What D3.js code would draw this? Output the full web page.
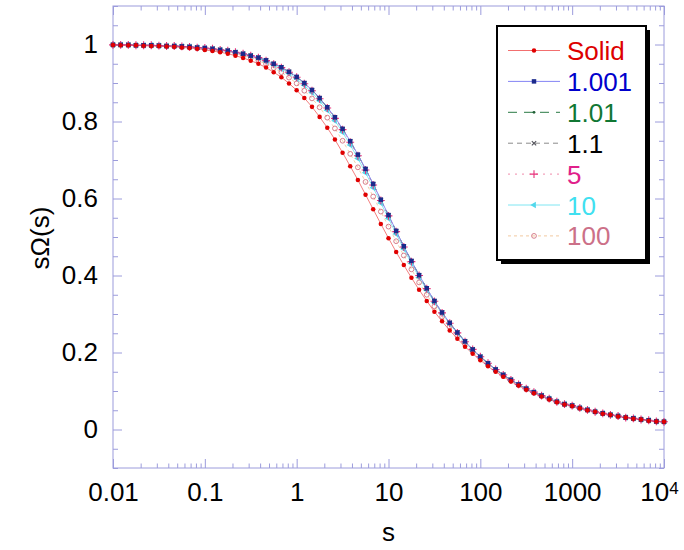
<!DOCTYPE html>
<html>
<head>
<meta charset="utf-8">
<script src="https://cdn.jsdelivr.net/npm/d3@7/dist/d3.min.js"></script>
<style>
  html, body { margin: 0; padding: 0; background: #ffffff; }
  svg { display: block; font-family: "Liberation Sans", Arial, Helvetica, sans-serif; }
</style>
</head>
<body>
<script>
// ---------------- DATA ----------------
const sValues = [0.01, 0.01212, 0.01468, 0.01778, 0.02154, 0.0261, 0.03162, 0.03831, 0.04642, 0.05623, 0.06813, 0.08254,
  0.1, 0.1212, 0.1468, 0.1778, 0.2154, 0.261, 0.3162, 0.3831, 0.4642, 0.5623, 0.6813, 0.8254,
  1, 1.212, 1.468, 1.778, 2.154, 2.61, 3.162, 3.831, 4.642, 5.623, 6.813, 8.254,
  10, 12.12, 14.68, 17.78, 21.54, 26.1, 31.62, 38.31, 46.42, 56.23, 68.13, 82.54,
  100, 121.2, 146.8, 177.8, 215.4, 261, 316.2, 383.1, 464.2, 562.3, 681.3, 825.4,
  1000, 1212, 1468, 1778, 2154, 2610, 3162, 3831, 4642, 5623, 6813, 8254, 10000];

const solidValues = [0.999, 0.998, 0.998, 0.998, 0.997, 0.996, 0.996, 0.995, 0.994, 0.992, 0.991, 0.989,
  0.986, 0.983, 0.980, 0.976, 0.971, 0.965, 0.958, 0.950, 0.940, 0.928, 0.915, 0.899,
  0.881, 0.861, 0.838, 0.812, 0.784, 0.753, 0.719, 0.684, 0.648, 0.610, 0.572, 0.534,
  0.497, 0.461, 0.427, 0.394, 0.363, 0.334, 0.306, 0.281, 0.257, 0.236, 0.215, 0.197,
  0.180, 0.164, 0.150, 0.137, 0.125, 0.114, 0.103, 0.094, 0.086, 0.078, 0.071, 0.065,
  0.061, 0.055, 0.050, 0.046, 0.041, 0.038, 0.034, 0.031, 0.028, 0.026, 0.023, 0.021, 0.020];

const r1001Values = [0.999, 0.999, 0.999, 0.998, 0.998, 0.998, 0.997, 0.996, 0.996, 0.995, 0.994, 0.992,
  0.991, 0.989, 0.986, 0.984, 0.980, 0.976, 0.971, 0.966, 0.959, 0.950, 0.941, 0.929,
  0.916, 0.900, 0.882, 0.861, 0.837, 0.811, 0.781, 0.749, 0.714, 0.677, 0.638, 0.597,
  0.557, 0.516, 0.476, 0.438, 0.401, 0.367, 0.334, 0.304, 0.277, 0.252, 0.229, 0.208,
  0.189, 0.172, 0.156, 0.142, 0.129, 0.117, 0.106, 0.097, 0.088, 0.080, 0.072, 0.066,
  0.062, 0.056, 0.051, 0.046, 0.042, 0.038, 0.035, 0.031, 0.029, 0.026, 0.024, 0.021, 0.020];

const r101Values = [0.999, 0.999, 0.999, 0.998, 0.998, 0.998, 0.997, 0.996, 0.996, 0.995, 0.994, 0.992,
  0.991, 0.989, 0.986, 0.984, 0.980, 0.976, 0.971, 0.966, 0.959, 0.950, 0.941, 0.929,
  0.916, 0.900, 0.882, 0.861, 0.837, 0.811, 0.781, 0.749, 0.714, 0.677, 0.638, 0.597,
  0.557, 0.516, 0.476, 0.438, 0.401, 0.367, 0.334, 0.304, 0.277, 0.252, 0.229, 0.208,
  0.189, 0.172, 0.156, 0.142, 0.129, 0.117, 0.106, 0.097, 0.088, 0.080, 0.072, 0.066,
  0.062, 0.056, 0.051, 0.046, 0.042, 0.038, 0.035, 0.031, 0.029, 0.026, 0.024, 0.021, 0.020];

const r11Values = [0.999, 0.999, 0.999, 0.998, 0.998, 0.998, 0.997, 0.996, 0.996, 0.995, 0.994, 0.992,
  0.991, 0.989, 0.986, 0.984, 0.980, 0.976, 0.971, 0.966, 0.959, 0.950, 0.941, 0.929,
  0.915, 0.899, 0.881, 0.860, 0.836, 0.810, 0.780, 0.748, 0.713, 0.676, 0.637, 0.596,
  0.556, 0.515, 0.475, 0.437, 0.400, 0.366, 0.333, 0.304, 0.277, 0.252, 0.229, 0.208,
  0.189, 0.172, 0.156, 0.142, 0.129, 0.117, 0.106, 0.097, 0.088, 0.080, 0.072, 0.066,
  0.062, 0.056, 0.051, 0.046, 0.042, 0.038, 0.035, 0.031, 0.029, 0.026, 0.024, 0.021, 0.020];

const r5Values = [0.999, 0.999, 0.999, 0.998, 0.998, 0.998, 0.997, 0.996, 0.996, 0.995, 0.994, 0.992,
  0.991, 0.989, 0.986, 0.984, 0.980, 0.976, 0.971, 0.966, 0.958, 0.949, 0.940, 0.928,
  0.915, 0.898, 0.880, 0.859, 0.835, 0.808, 0.779, 0.746, 0.711, 0.674, 0.635, 0.595,
  0.555, 0.514, 0.474, 0.436, 0.400, 0.366, 0.333, 0.303, 0.276, 0.251, 0.228, 0.208,
  0.189, 0.172, 0.156, 0.142, 0.129, 0.117, 0.106, 0.097, 0.088, 0.080, 0.072, 0.066,
  0.062, 0.056, 0.051, 0.046, 0.042, 0.038, 0.035, 0.031, 0.029, 0.026, 0.024, 0.021, 0.020];

const r10Values = [0.999, 0.999, 0.999, 0.998, 0.998, 0.998, 0.997, 0.996, 0.996, 0.995, 0.994, 0.992,
  0.990, 0.988, 0.986, 0.983, 0.979, 0.975, 0.970, 0.964, 0.956, 0.947, 0.937, 0.925,
  0.911, 0.894, 0.875, 0.854, 0.829, 0.802, 0.772, 0.739, 0.704, 0.667, 0.628, 0.588,
  0.548, 0.508, 0.469, 0.431, 0.395, 0.362, 0.330, 0.301, 0.274, 0.250, 0.227, 0.206,
  0.188, 0.171, 0.155, 0.141, 0.128, 0.117, 0.106, 0.096, 0.088, 0.080, 0.072, 0.066,
  0.062, 0.056, 0.051, 0.046, 0.042, 0.038, 0.035, 0.031, 0.029, 0.026, 0.024, 0.021, 0.020];

const r100Values = [0.999, 0.999, 0.998, 0.998, 0.997, 0.997, 0.996, 0.996, 0.995, 0.993, 0.992, 0.990,
  0.988, 0.986, 0.983, 0.980, 0.976, 0.971, 0.965, 0.958, 0.949, 0.939, 0.928, 0.914,
  0.899, 0.880, 0.860, 0.837, 0.810, 0.782, 0.750, 0.716, 0.681, 0.643, 0.605, 0.566,
  0.527, 0.489, 0.452, 0.416, 0.382, 0.350, 0.320, 0.293, 0.267, 0.244, 0.222, 0.202,
  0.184, 0.168, 0.153, 0.139, 0.127, 0.115, 0.105, 0.095, 0.087, 0.079, 0.072, 0.065,
  0.061, 0.055, 0.050, 0.046, 0.042, 0.038, 0.034, 0.031, 0.028, 0.026, 0.023, 0.021, 0.020];

const seriesNames = ["Solid", "1.001", "1.01", "1.1", "5", "10", "100"];
const seriesValues = [solidValues, r1001Values, r101Values, r11Values, r5Values, r10Values, r100Values];

const xTickValues = [0.01, 0.1, 1, 10, 100, 1000, 10000];
const xTickLabels = ["0.01", "0.1", "1", "10", "100", "1000", "10^4"];
const yTickValues = [0, 0.2, 0.4, 0.6, 0.8, 1];
const yTickLabels = ["0", "0.2", "0.4", "0.6", "0.8", "1"];
const xTitle = "s";
const yTitle = "sΩ(s)";

// ---------------- STYLES ----------------
const styles = {
  "Solid": { line: "#f26f6f", dash: null, mark: "#e00000", text: "#dd0000", shape: "circle", size: 16, fill: true },
  "1.001": { line: "#8484f4", dash: null, mark: "#1c2a8c", text: "#0000cc", shape: "square", size: 20, fill: true },
  "1.01":  { line: "#2a7a44", dash: "9,7", mark: "#1f5f35", text: "#117733", shape: "circle", size: 6, fill: true },
  "1.1":   { line: "#8a8a8a", dash: "5,4", mark: "#505058", text: "#000000", shape: "times", size: 14, fill: false },
  "5":     { line: "#f08aaa", dash: "2,5", mark: "#e8307a", text: "#e0208a", shape: "plus", size: 22, fill: false },
  "10":    { line: "#7fe6f2", dash: null, mark: "#52d8ec", text: "#40e0f0", shape: "triangle", size: 18, fill: true },
  "100":   { line: "#f2c9a0", dash: "3,3", mark: "#d07080", text: "#cc7088", shape: "circle", size: 18, fill: false }
};
const frameColor = "#9c9cdc";
const W = 684, H = 550;
const margin = { left: 113, right: 664, top: 6, bottom: 468 };

const svg = d3.select("body").append("svg").attr("width", W).attr("height", H);
svg.append("rect").attr("width", W).attr("height", H).attr("fill", "#ffffff");

const x = d3.scaleLog().domain([0.01, 10000]).range([margin.left, margin.right]);
const y = d3.scaleLinear().domain([-0.1, 1.1]).range([margin.bottom, margin.top]);

// minor tick positions
const xMinor = [];
for (let d = -2; d < 4; d++) for (let m = 2; m <= 9; m++) xMinor.push(m * Math.pow(10, d));
const yMinor = d3.range(-2, 23).map(i => +(i * 0.05).toFixed(2)).filter(v => !yTickValues.includes(v));

function styleAxis(g) {
  g.select(".domain").remove();
  g.selectAll("line").attr("stroke", frameColor).attr("stroke-width", 1);
}

const fontSize = 26;
// bottom axis
svg.append("g").attr("transform", `translate(0,${margin.bottom})`)
  .call(d3.axisBottom(x).tickValues(xMinor).tickSize(-4.5).tickFormat(""))
  .call(styleAxis);
const xAxisG = svg.append("g").attr("transform", `translate(0,${margin.bottom})`)
  .call(d3.axisBottom(x).tickValues(xTickValues).tickSize(-9).tickPadding(15)
    .tickFormat((d, i) => xTickLabels[i]))
  .call(styleAxis);
xAxisG.selectAll("text").attr("fill", "#000").style("font-size", fontSize + "px")
  .style("font-family", '"Liberation Sans", Arial, sans-serif');
xAxisG.selectAll("text").filter(d => d === 10000).each(function () {
  const t = d3.select(this);
  t.text(null).attr("x", -5);
  t.append("tspan").text("10");
  t.append("tspan").text("4").attr("dy", "-0.45em").style("font-size", "17px");
});

// top axis
svg.append("g").attr("transform", `translate(0,${margin.top})`)
  .call(d3.axisTop(x).tickValues(xMinor).tickSize(-4.5).tickFormat("")).call(styleAxis);
svg.append("g").attr("transform", `translate(0,${margin.top})`)
  .call(d3.axisTop(x).tickValues(xTickValues).tickSize(-9).tickFormat("")).call(styleAxis);

// left axis
svg.append("g").attr("transform", `translate(${margin.left},0)`)
  .call(d3.axisLeft(y).tickValues(yMinor).tickSize(-5).tickFormat("")).call(styleAxis);
const yAxisG = svg.append("g").attr("transform", `translate(${margin.left},0)`)
  .call(d3.axisLeft(y).tickValues(yTickValues).tickSize(-9).tickPadding(15)
    .tickFormat((d, i) => yTickLabels[i]))
  .call(styleAxis);
yAxisG.selectAll("text").attr("fill", "#000").style("font-size", fontSize + "px")
  .style("font-family", '"Liberation Sans", Arial, sans-serif');

// right axis
svg.append("g").attr("transform", `translate(${margin.right},0)`)
  .call(d3.axisRight(y).tickValues(yMinor).tickSize(-5).tickFormat("")).call(styleAxis);
svg.append("g").attr("transform", `translate(${margin.right},0)`)
  .call(d3.axisRight(y).tickValues(yTickValues).tickSize(-9).tickFormat("")).call(styleAxis);

// frame
svg.append("rect").attr("x", margin.left).attr("y", margin.top)
  .attr("width", margin.right - margin.left).attr("height", margin.bottom - margin.top)
  .attr("fill", "none").attr("stroke", frameColor).attr("stroke-width", 1);

// titles
svg.append("text").attr("x", (margin.left + margin.right) / 2).attr("y", 541)
  .attr("text-anchor", "middle").style("font-size", fontSize + "px").attr("fill", "#000").text(xTitle);
svg.append("text").attr("transform", "translate(49,238) rotate(-90)")
  .attr("text-anchor", "middle").style("font-size", fontSize + "px").attr("fill", "#000").text(yTitle);

// symbols
function symbolPath(shape, size) {
  const types = { circle: d3.symbolCircle, square: d3.symbolSquare, times: d3.symbolTimes,
    plus: d3.symbolPlus, triangle: d3.symbolTriangle };
  return d3.symbol().type(types[shape]).size(size)();
}
function drawMarker(g, st, px, py) {
  const p = g.append("path").attr("d", symbolPath(st.shape, st.size));
  let tr = `translate(${px},${py})`;
  if (st.shape === "triangle") tr += " rotate(-90)";
  p.attr("transform", tr);
  if (st.fill) p.attr("fill", st.mark).attr("stroke", "none");
  else p.attr("fill", "none").attr("stroke", st.mark).attr("stroke-width", st.shape === "circle" ? 0.9 : 1.1);
}

const plot = svg.append("g");
const line = d3.line().x(d => x(d.s)).y(d => y(d.v));
const drawOrder = ["100", "10", "5", "1.1", "1.01", "1.001", "Solid"];
drawOrder.forEach(name => {
  const i = seriesNames.indexOf(name);
  const st = styles[name];
  const pts = sValues.map((s, j) => ({ s: s, v: seriesValues[i][j] }));
  const p = plot.append("path").datum(pts).attr("d", line)
    .attr("fill", "none").attr("stroke", st.line).attr("stroke-width", 0.9);
  if (st.dash) p.attr("stroke-dasharray", st.dash);
});
drawOrder.forEach(name => {
  const i = seriesNames.indexOf(name);
  const st = styles[name];
  const g = plot.append("g");
  sValues.forEach((s, j) => drawMarker(g, st, x(s), y(seriesValues[i][j])));
});

// legend
const lg = svg.append("g");
const lx = 497, ly = 26, lw = 149, lh = 234;
lg.append("rect").attr("x", lx + 4).attr("y", ly + 4).attr("width", lw).attr("height", lh).attr("fill", "#000");
lg.append("rect").attr("x", lx).attr("y", ly).attr("width", lw).attr("height", lh)
  .attr("fill", "#fff").attr("stroke", "#000").attr("stroke-width", 2);
seriesNames.forEach((name, i) => {
  const st = styles[name];
  const cy = 50.5 + i * 30.9;
  const l = lg.append("line").attr("x1", 508).attr("x2", 560).attr("y1", cy).attr("y2", cy)
    .attr("stroke", st.line).attr("stroke-width", 1);
  if (st.dash) l.attr("stroke-dasharray", st.dash);
  drawMarker(lg, st, 534, cy);
  lg.append("text").attr("x", 567).attr("y", cy + 9.5).style("font-size", fontSize + "px")
    .attr("fill", st.text).text(name);
});
</script>
</body>
</html>
